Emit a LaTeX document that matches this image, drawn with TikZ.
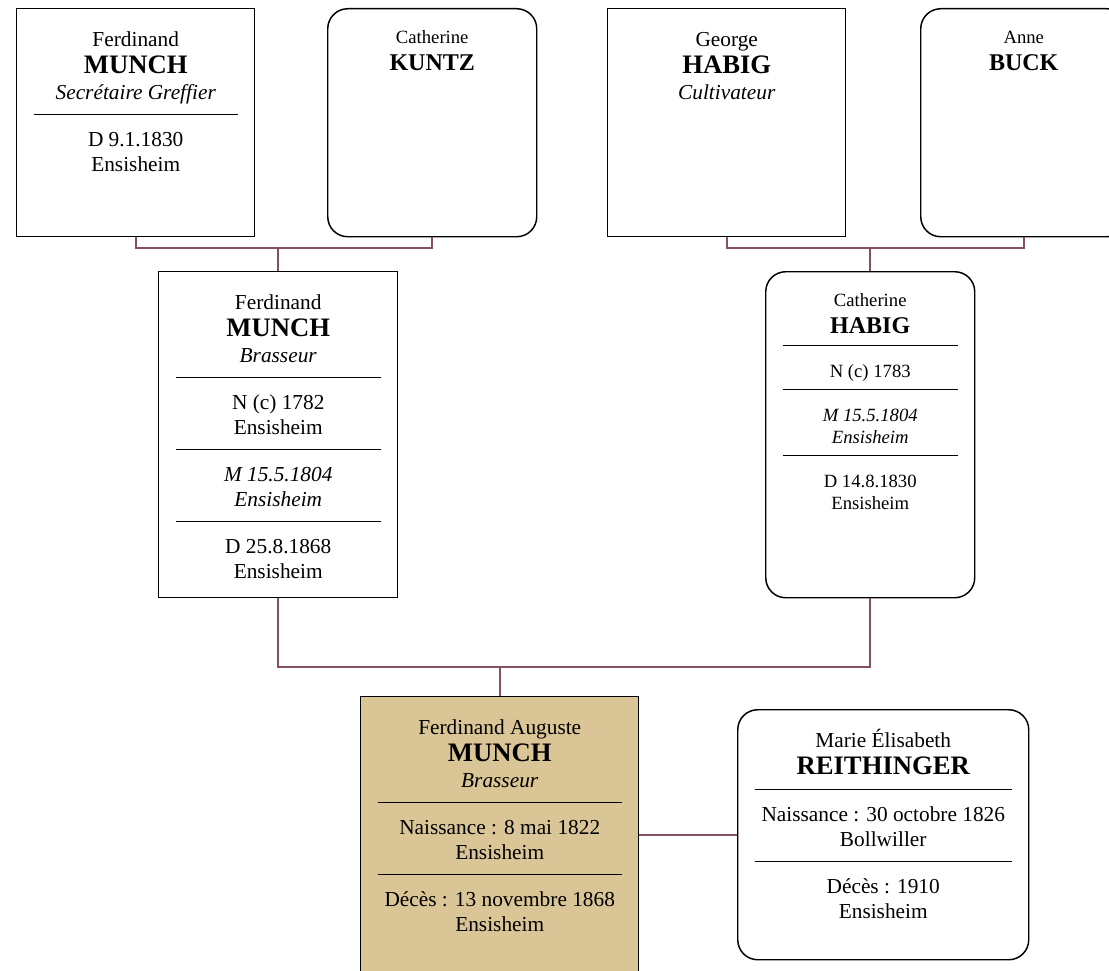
\documentclass[tikz,border=0pt]{standalone}
\usepackage{fontspec}
\setmainfont{Liberation Serif}
\usepackage{tikz}

\definecolor{linkred}{RGB}{135,80,95}
\definecolor{ownfill}{RGB}{217,197,149}

\newlength\px
\setlength\px{0.75pt}
\newlength\cardw
\newlength\sepup
\newlength\sepdown
\newlength\nomskip
\def\nomsize{20}
\newcommand{\famcard}[3]{\setlength\cardw{#1}\setlength\sepup{-7.5pt}\setlength\sepdown{5.25pt}\setlength\nomskip{1.5pt}\def\nomsize{20}%
	\parbox[c][#2][t]{#1}{\centering\fontsize{16}{18.75}\selectfont\lineskiplimit=-\maxdimen\rule{0pt}{28.5pt}#3}}
\newcommand{\smallcard}[3]{\setlength\cardw{#1}\setlength\sepup{-6.75pt}\setlength\sepdown{6.75pt}\setlength\nomskip{3.5pt}\def\nomsize{18}%
	\parbox[c][#2][t]{#1}{\centering\fontsize{14}{16.5}\selectfont\lineskiplimit=-\maxdimen\rule{0pt}{26.25pt}#3}}
\newcommand{\sepline}{\\[\sepup]\rule{\dimexpr\cardw-34\px\relax}{0.9pt}\\[\sepdown]}
\newcommand{\nom}[1]{\\[\nomskip]{\fontsize{\nomsize}{18.75}\selectfont\bfseries #1}}

\begin{document}
\begin{tikzpicture}[x=0.75pt,y=-0.75pt,
	card/.style={draw,line width=1.1pt,inner sep=0pt,anchor=north west},
	roundcard/.style={card,rounded corners=15pt},
	link/.style={draw=linkred,line width=1.5pt}]
	\useasboundingbox (0,0) rectangle (1109,970);
	\clip (0,0) rectangle (1109,970);

	\node[card] (ferdM) at (16,8) {\famcard{238\px}{228\px}{Ferdinand\nom{MUNCH}\\[0.75pt]\textit{Secrétaire Greffier}\sepline D 9.1.1830\\Ensisheim}};
	\node[roundcard] (kuntz) at (327,8) {\smallcard{209\px}{228\px}{Catherine\nom{KUNTZ}}};
	\node[card] (georgeH) at (607,8) {\famcard{238\px}{228\px}{George\nom{HABIG}\\[0.75pt]\textit{Cultivateur}}};
	\node[roundcard] (buck) at (920,8) {\smallcard{206\px}{228\px}{Anne\nom{BUCK}}};

	\node[card] (ferdinand) at (158,271) {\famcard{239\px}{326\px}{Ferdinand\nom{MUNCH}\\[0.75pt]\textit{Brasseur}\sepline N (c) 1782\\Ensisheim\sepline \textit{M 15.5.1804}\\\textit{Ensisheim}\sepline D 25.8.1868\\Ensisheim}};
	\node[roundcard] (catherineH) at (765,271) {\smallcard{209\px}{326\px}{Catherine\nom{HABIG}\sepline N (c) 1783\sepline \textit{M 15.5.1804}\\\textit{Ensisheim}\sepline D 14.8.1830\\Ensisheim}};

	\node[card,fill=ownfill] (auguste) at (360,696) {\famcard{278\px}{310\px}{Ferdinand Auguste\nom{MUNCH}\\[0.75pt]\textit{Brasseur}\sepline Naissance : 8 mai 1822\\Ensisheim\sepline Décès : 13 novembre 1868\\Ensisheim}};
	\node[roundcard] (marie) at (737,709) {\famcard{291\px}{250\px}{Marie Élisabeth\nom{REITHINGER}\sepline Naissance : 30 octobre 1826\\Bollwiller\sepline Décès : 1910\\Ensisheim}};

	\draw[link] (ferdM.south) -- ++(0,11) -| (kuntz.south);
	\draw[link] (ferdinand.north) -- ++(0,-24);
	\draw[link] (georgeH.south) -- ++(0,11) -| (buck.south);
	\draw[link] (catherineH.north) -- ++(0,-24);
	\draw[link] (ferdinand.south) -- ++(0,69) -| (catherineH.south);
	\draw[link] (auguste.north) -- ++(0,-30);
	\draw[link] (marie.west) -- (marie.west -| auguste.east);
\end{tikzpicture}
\end{document}
